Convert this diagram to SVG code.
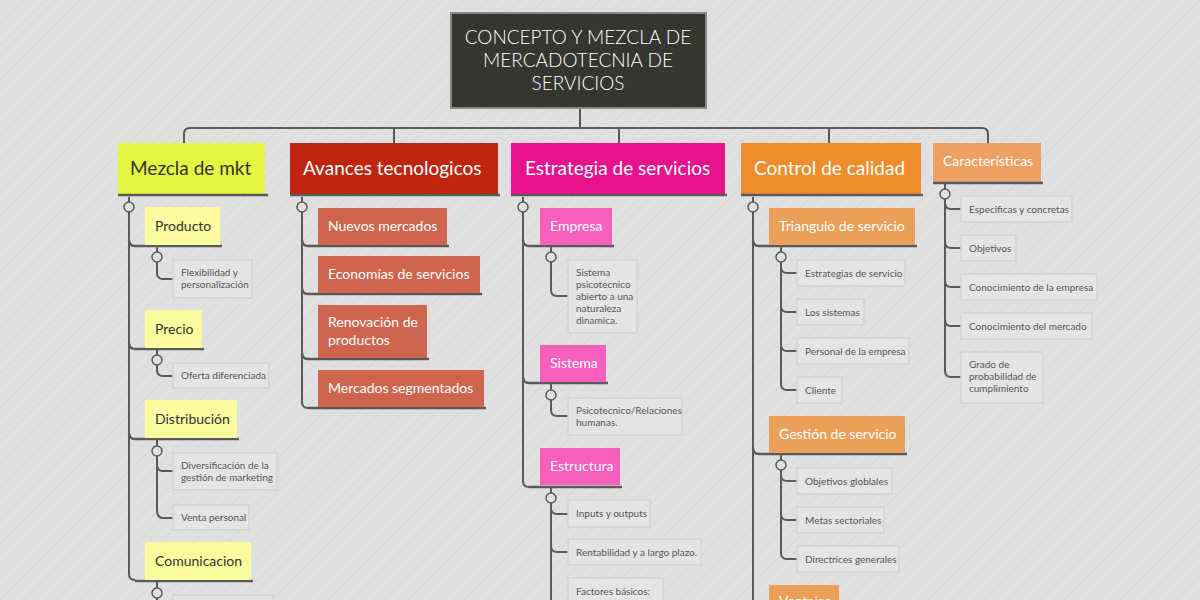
<svg xmlns="http://www.w3.org/2000/svg" width="1200" height="600" viewBox="0 0 1200 600">
<defs>
<pattern id="hatch" width="8" height="8" patternUnits="userSpaceOnUse" patternTransform="rotate(45)">
<rect width="8" height="8" fill="#e0e0e0"/><line x1="0" y1="0" x2="0" y2="8" stroke="#d8d8d8" stroke-width="2"/>
</pattern>
<style>
text{font-family:"Lato","Liberation Sans",sans-serif}
.c{fill:none;stroke:#5a5a5a;stroke-width:2}
.u{fill:none;stroke:#5a5a5a;stroke-width:2.5}
.k{fill:#e0e0e0;stroke:#5a5a5a;stroke-width:1.5}
.leaf{fill:#e4e4e4;stroke:#d2d2d2;stroke-width:1.5}
.lt{font-size:10px;fill:#555}
.m{font-size:19px}
.s{font-size:14px}
.w{fill:#fff}
.d{fill:#333}
</style>
</defs>
<rect width="1200" height="600" fill="url(#hatch)"/>
<g id="connectors">
<path class="c" d="M580,108 V128 M184,143 V134 Q184,128 190,128 H982 Q988,128 988,134 V143 M394,128 V143 M619,128 V143 M829,128 V143"/>
<path class="c" d="M129,197 V574 Q129,580 135,580"/>
<path class="u" d="M129,240 Q129,246 135,246 H222 M129,343 Q129,349 135,349 H204 M129,433 Q129,439 135,439 H239 M135,581 H253"/>
<path class="c" d="M157,247 V273 Q157,279 163,279 H173 M157,350 V370 Q157,376 163,376 H173 M157,440 V510 Q157,518 163,518 H173 M157,465 Q157,471 163,471 H173 M157,582 V600"/>
<path class="c" d="M302,197 V402 Q302,408 308,408"/>
<path class="u" d="M302,240 Q302,246 308,246 H449 M302,288 Q302,294 308,294 H482 M302,353 Q302,359 308,359 H429 M308,408 H486"/>
<path class="c" d="M523,197 V481 Q523,487 529,487"/>
<path class="u" d="M523,240 Q523,246 529,246 H614 M523,377 Q523,383 529,383 H608 M529,487 H622"/>
<path class="c" d="M551,247 V290 Q551,296 557,296 H568 M551,384 V410 Q551,416 557,416 H568 M551,488 V600 M551,508 Q551,514 557,514 H568 M551,546 Q551,552 557,552 H568"/>
<path class="c" d="M753,197 V600"/>
<path class="u" d="M753,240 Q753,246 759,246 H917 M753,448 Q753,454 759,454 H907"/>
<path class="c" d="M781,247 V384 Q781,390 787,390 H797 M781,267 Q781,273 787,273 H797 M781,306 Q781,312 787,312 H797 M781,345 Q781,351 787,351 H797 M781,455 V553 Q781,559 787,559 H797 M781,475 Q781,481 787,481 H797 M781,514 Q781,520 787,520 H797"/>
<path class="c" d="M945,184 V371 Q945,377 951,377 H961 M945,203 Q945,209 951,209 H961 M945,242 Q945,248 951,248 H961 M945,281 Q945,287 951,287 H961 M945,320 Q945,326 951,326 H961"/>
<g>
<circle class="k" cx="129" cy="207" r="5"/><circle class="k" cx="157" cy="257" r="5"/><circle class="k" cx="157" cy="360" r="5"/><circle class="k" cx="157" cy="451" r="5"/><circle class="k" cx="157" cy="593" r="5"/>
<circle class="k" cx="302" cy="207" r="5"/>
<circle class="k" cx="523" cy="207" r="5"/><circle class="k" cx="551" cy="257" r="5"/><circle class="k" cx="551" cy="395" r="5"/><circle class="k" cx="551" cy="498" r="5"/>
<circle class="k" cx="753" cy="207" r="5"/><circle class="k" cx="781" cy="257" r="5"/><circle class="k" cx="781" cy="465" r="5"/>
<circle class="k" cx="945" cy="194" r="5"/>
</g>
</g>
<g id="root"><rect x="451" y="13" width="255" height="95" fill="#363631" stroke="#888" stroke-width="2"/>
<text x="578" y="44" text-anchor="middle" font-size="19" font-weight="300" class="w">CONCEPTO Y MEZCLA DE</text>
<text x="578" y="67" text-anchor="middle" font-size="19" font-weight="300" class="w">MERCADOTECNIA DE</text>
<text x="578" y="90" text-anchor="middle" font-size="19" font-weight="300" class="w">SERVICIOS</text></g>

<g id="mezcla"><rect x="118" y="143" width="147" height="51" fill="#e6f53f"/><path class="u" d="M118,195 H268"/><text x="130" y="175" class="m d">Mezcla de mkt</text></g>
<g id="producto"><rect x="145" y="207" width="75" height="38" fill="#fbfa9e"/><text x="155" y="231" class="s d">Producto</text></g>
<g id="flex"><rect class="leaf" x="173" y="260" width="79" height="38"/><text x="181" y="276" class="lt">Flexibilidad y</text><text x="181" y="288" class="lt">personalización</text></g>
<g id="precio"><rect x="145" y="310" width="57" height="38" fill="#fbfa9e"/><text x="155" y="334" class="s d">Precio</text></g>
<g id="oferta"><rect class="leaf" x="173" y="363" width="96" height="25"/><text x="181" y="379" class="lt">Oferta diferenciada</text></g>
<g id="distribucion"><rect x="145" y="400" width="92" height="38" fill="#fbfa9e"/><text x="155" y="424" class="s d">Distribución</text></g>
<g id="diversificacion"><rect class="leaf" x="173" y="453" width="104" height="37"/><text x="181" y="469" class="lt">Diversificación de la</text><text x="181" y="481" class="lt">gestión de marketing</text></g>
<g id="venta"><rect class="leaf" x="173" y="505" width="76" height="25"/><text x="181" y="521" class="lt">Venta personal</text></g>
<g id="comunicacion"><rect x="145" y="542" width="106" height="38" fill="#fbfa9e"/><text x="155" y="566" class="s d">Comunicacion</text></g>
<g id="comleaf"><rect class="leaf" x="173" y="595" width="100" height="10"/></g>

<g id="avances"><rect x="290" y="143" width="208" height="51" fill="#c0250f"/><path class="u" d="M290,195 H500"/><text x="303" y="175" class="m w">Avances tecnologicos</text></g>
<g id="nuevos"><rect x="318" y="208" width="129" height="37" fill="#d0654f"/><text x="328" y="231" class="s w">Nuevos mercados</text></g>
<g id="economias"><rect x="318" y="256" width="162" height="37" fill="#d0654f"/><text x="328" y="279" class="s w">Economías de servicios</text></g>
<g id="renovacion"><rect x="318" y="305" width="109" height="53" fill="#d0654f"/><text x="328" y="327" class="s w">Renovación de</text><text x="328" y="345" class="s w">productos</text></g>
<g id="segmentados"><rect x="318" y="370" width="166" height="37" fill="#d0654f"/><text x="328" y="393" class="s w">Mercados segmentados</text></g>

<g id="estrategia"><rect x="511" y="143" width="214" height="51" fill="#e8128c"/><path class="u" d="M511,195 H727"/><text x="525" y="175" class="m w">Estrategia de servicios</text></g>
<g id="empresa"><rect x="540" y="208" width="72" height="37" fill="#f65fbc"/><text x="550" y="231" class="s w">Empresa</text></g>
<g id="sistpsico"><rect class="leaf" x="568" y="260" width="69" height="73"/><text class="lt" x="576" y="276">Sistema</text><text class="lt" x="576" y="288">psicotecnico</text><text class="lt" x="576" y="300">abierto a una</text><text class="lt" x="576" y="312">naturaleza</text><text class="lt" x="576" y="324">dinamica.</text></g>
<g id="sistema"><rect x="540" y="345" width="66" height="37" fill="#f65fbc"/><text x="550" y="368" class="s w">Sistema</text></g>
<g id="psico"><rect class="leaf" x="568" y="398" width="114" height="37"/><text class="lt" x="576" y="414">Psicotecnico/Relaciones</text><text class="lt" x="576" y="426">humanas.</text></g>
<g id="estructura"><rect x="540" y="448" width="80" height="37" fill="#f65fbc"/><text x="550" y="471" class="s w">Estructura</text></g>
<g id="inputs"><rect class="leaf" x="568" y="500" width="82" height="27"/><text class="lt" x="576" y="517">Inputs y outputs</text></g>
<g id="rentabilidad"><rect class="leaf" x="568" y="539" width="133" height="26"/><text class="lt" x="576" y="556">Rentabilidad y a largo plazo.</text></g>
<g id="factores"><rect class="leaf" x="568" y="578" width="95" height="30"/><text class="lt" x="576" y="595">Factores básicos:</text></g>

<g id="control"><rect x="741" y="143" width="180" height="51" fill="#ef8c2c"/><path class="u" d="M741,195 H923"/><text x="754" y="175" class="m w">Control de calidad</text></g>
<g id="triangulo"><rect x="769" y="208" width="146" height="37" fill="#eba05a"/><text x="779" y="231" class="s w">Triangulo de servicio</text></g>
<g id="estrategias"><rect class="leaf" x="797" y="260" width="108" height="26"/><text class="lt" x="805" y="277">Estrategias de servicio</text></g>
<g id="lossistemas"><rect class="leaf" x="797" y="299" width="67" height="26"/><text class="lt" x="805" y="316">Los sistemas</text></g>
<g id="personal"><rect class="leaf" x="797" y="338" width="112" height="26"/><text class="lt" x="805" y="355">Personal de la empresa</text></g>
<g id="cliente"><rect class="leaf" x="797" y="377" width="45" height="26"/><text class="lt" x="805" y="394">Cliente</text></g>
<g id="gestion"><rect x="769" y="416" width="136" height="37" fill="#eba05a"/><text x="779" y="439" class="s w">Gestión de servicio</text></g>
<g id="objetivosg"><rect class="leaf" x="797" y="468" width="95" height="26"/><text class="lt" x="805" y="485">Objetivos globlales</text></g>
<g id="metas"><rect class="leaf" x="797" y="507" width="87" height="26"/><text class="lt" x="805" y="524">Metas sectoriales</text></g>
<g id="directrices"><rect class="leaf" x="797" y="546" width="102" height="26"/><text class="lt" x="805" y="563">Directrices generales</text></g>
<g id="ventajas"><rect x="769" y="585" width="70" height="20" fill="#eba05a"/><text x="779" y="606" class="s w">Ventajas</text></g>

<g id="caracteristicas"><rect x="933" y="143" width="108" height="39" fill="#eda062"/><path class="u" d="M933,183 H1043"/><text x="943" y="166" class="s w">Características</text></g>
<g id="especificas"><rect class="leaf" x="961" y="196" width="111" height="26"/><text class="lt" x="969" y="213">Especificas y concretas</text></g>
<g id="objetivos"><rect class="leaf" x="961" y="235" width="55" height="26"/><text class="lt" x="969" y="252">Objetivos</text></g>
<g id="conoempresa"><rect class="leaf" x="961" y="274" width="136" height="26"/><text class="lt" x="969" y="291">Conocimiento de la empresa</text></g>
<g id="conomercado"><rect class="leaf" x="961" y="313" width="131" height="26"/><text class="lt" x="969" y="330">Conocimiento del mercado</text></g>
<g id="grado"><rect class="leaf" x="961" y="352" width="82" height="51"/><text class="lt" x="969" y="368">Grado de</text><text class="lt" x="969" y="380">probabilidad de</text><text class="lt" x="969" y="392">cumplimiento</text></g>
</svg>
